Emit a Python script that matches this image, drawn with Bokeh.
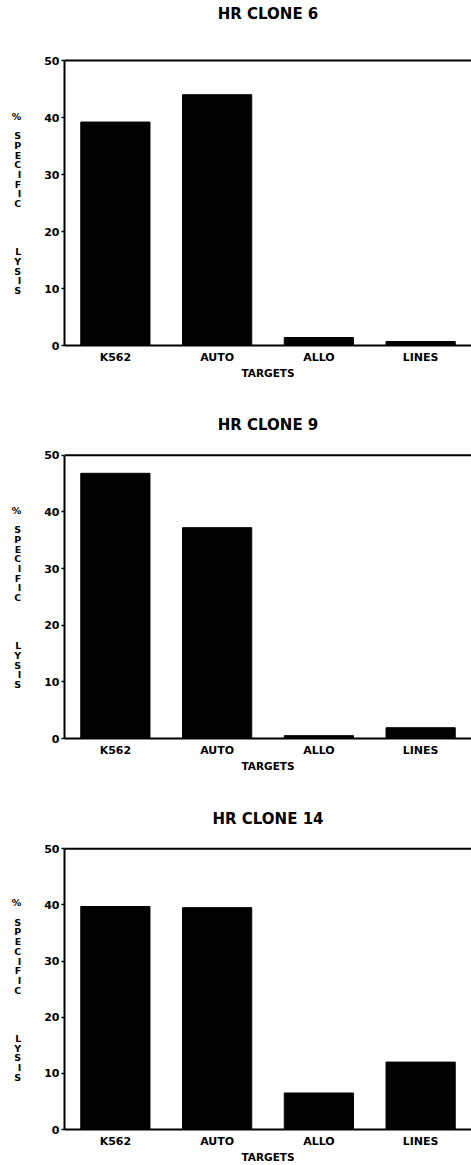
from bokeh.plotting import figure
from bokeh.models import FactorRange, Range1d, FixedTicker, Label, Span
from bokeh.layouts import column
from bokeh.embed import file_html
from bokeh.resources import INLINE

targets = ["K562", "AUTO", "ALLO", "LINES"]
clone6 = [39.2, 44.0, 1.4, 0.7]
clone9 = [46.8, 37.2, 0.5, 1.9]
clone14 = [39.7, 39.5, 6.5, 12.0]
titles = ["HR CLONE 6", "HR CLONE 9", "HR CLONE 14"]
y_ticks = [0, 10, 20, 30, 40, 50]
y_label_words = ["%", "SPECIFIC", "LYSIS"]

FONT = "DejaVu Sans"
Y_MAX = 50      # top of the value axis
Y_ROOM = 60     # range top, leaves room for the panel title inside the frame


def stacked(words):
    lines = [""] * 6 + [words[0], ""] + list(words[1]) + [""] * 4 + list(words[2])
    return "\n".join(lines)


def make_panel(title, values, height, btop, bbottom, title_gap_px):
    p = figure(
        x_range=FactorRange(factors=targets, range_padding=0),
        y_range=Range1d(0, Y_ROOM),
        width=471, height=height,
        min_border_left=64, min_border_right=0,
        min_border_top=btop, min_border_bottom=bbottom,
        output_backend="svg", toolbar_location=None,
    )
    p.vbar(x=targets, top=values, width=0.68, color="black")

    p.outline_line_color = None
    p.xgrid.grid_line_color = None
    p.ygrid.grid_line_color = None
    p.add_layout(Span(location=Y_MAX, dimension="width", line_color="black", line_width=2))

    frame_h = height - btop - bbottom
    k = frame_h / Y_ROOM
    p.add_layout(Label(
        x=len(targets) / 2, y=Y_MAX + title_gap_px / k, text=title,
        text_align="center", text_baseline="middle",
        text_font=FONT, text_font_style="bold", text_font_size="15px",
        text_color="black",
    ))

    ya = p.yaxis[0]
    ya.ticker = FixedTicker(ticks=y_ticks)
    ya.bounds = (0, Y_MAX)
    ya.axis_line_width = 2
    ya.axis_line_color = "black"
    ya.major_tick_in = 0
    ya.major_tick_out = 3
    ya.major_tick_line_width = 1.5
    ya.minor_tick_line_color = None
    ya.major_label_standoff = 2
    ya.major_label_text_font = FONT
    ya.major_label_text_font_style = "bold"
    ya.major_label_text_font_size = "11px"
    ya.major_label_text_color = "black"
    ya.axis_label = stacked(y_label_words)
    ya.axis_label_orientation = "horizontal"
    ya.axis_label_standoff = 20
    ya.axis_label_text_font = FONT
    ya.axis_label_text_font_style = "bold"
    ya.axis_label_text_font_size = "9.5px"
    ya.axis_label_text_line_height = 0.88
    ya.axis_label_text_color = "black"

    xa = p.xaxis[0]
    xa.axis_line_width = 2
    xa.axis_line_color = "black"
    xa.major_tick_line_color = None
    xa.major_tick_out = 0
    xa.major_tick_in = 0
    xa.minor_tick_line_color = None
    xa.minor_tick_out = 0
    xa.major_label_standoff = 5
    xa.major_label_text_font = FONT
    xa.major_label_text_font_style = "bold"
    xa.major_label_text_font_size = "11px"
    xa.major_label_text_color = "black"
    xa.axis_label = "TARGETS"
    xa.axis_label_standoff = 0
    xa.axis_label_text_font = FONT
    xa.axis_label_text_font_style = "bold"
    xa.axis_label_text_font_size = "10.5px"
    xa.axis_label_text_color = "black"
    return p


p1 = make_panel(titles[0], clone6, 398, 3, 53, 47)
p2 = make_panel(titles[1], clone9, 394, 0, 54, 30)
p3 = make_panel(titles[2], clone14, 373, 0, 36, 30)

layout = column(p1, p2, p3, spacing=0)
open("out.html", "w").write(file_html(layout, INLINE))
